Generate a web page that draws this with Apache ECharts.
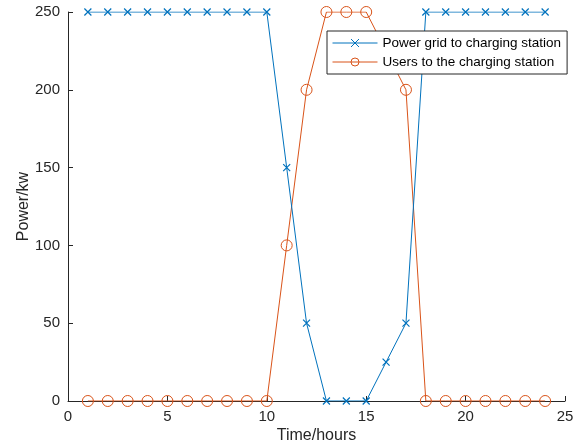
<!DOCTYPE html>
<html>
<head>
<meta charset="utf-8">
<script src="https://cdn.jsdelivr.net/npm/echarts@6/dist/echarts.min.js"></script>
<style>
  html, body { margin: 0; padding: 0; background: #fff; }
  #chart { width: 574px; height: 448px; }
</style>
</head>
<body>
<div id="chart"></div>
<script>
// hours 1..24
var hours = [1, 2, 3, 4, 5, 6, 7, 8, 9, 10, 11, 12, 13, 14, 15, 16, 17, 18, 19, 20, 21, 22, 23, 24];
var gridPower = [250, 250, 250, 250, 250, 250, 250, 250, 250, 250, 150, 50, 0, 0, 0, 25, 50, 250, 250, 250, 250, 250, 250, 250];
var userPower = [0, 0, 0, 0, 0, 0, 0, 0, 0, 0, 100, 200, 250, 250, 250, 225, 200, 0, 0, 0, 0, 0, 0, 0];
var seriesNames = ['Power grid to charging station', 'Users to the charging station'];

function pairs(xs, ys) {
    var out = [];
    for (var i = 0; i < xs.length; i++) {
        out.push([xs[i], ys[i]]);
    }
    return out;
}

var axisColor = '#262626';
var font = 'Liberation Sans, Arial, sans-serif';

var chart = echarts.init(document.getElementById('chart'));
var option = {
    animation: false,
    backgroundColor: '#fff',
    grid: { left: 68, right: 9, top: 12, bottom: 47, outerBoundsMode: 'none' },
    legend: {
        orient: 'vertical',
        left: 327,
        top: 31,
        padding: [5, 6, 5, 5],
        itemWidth: 45,
        itemHeight: 10,
        itemGap: 5,
        backgroundColor: '#fff',
        borderColor: axisColor,
        borderWidth: 1,
        borderRadius: 0,
        lineStyle: { width: 1 },
        itemStyle: { borderWidth: 1 },
        textStyle: { fontFamily: font, fontSize: 13.5, color: '#000' },
        data: seriesNames
    },
    xAxis: {
        type: 'value',
        min: 0, max: 25, interval: 5,
        name: 'Time/hours',
        nameLocation: 'middle',
        nameGap: 27,
        nameMoveOverlap: false,
        nameTextStyle: { fontFamily: font, fontSize: 16, color: axisColor },
        axisLine: { lineStyle: { color: axisColor, width: 1 } },
        axisTick: { inside: true, length: 5, lineStyle: { color: axisColor } },
        axisLabel: { fontFamily: font, fontSize: 15, color: axisColor, margin: 8 },
        splitLine: { show: false }
    },
    yAxis: {
        type: 'value',
        min: 0, max: 250, interval: 50,
        name: 'Power/kw',
        nameLocation: 'middle',
        nameGap: 36,
        nameMoveOverlap: false,
        nameTextStyle: { fontFamily: font, fontSize: 16, color: axisColor },
        axisLine: { show: true, lineStyle: { color: axisColor, width: 1 } },
        axisTick: { show: true, inside: true, length: 5, lineStyle: { color: axisColor } },
        axisLabel: { fontFamily: font, fontSize: 15, color: axisColor, margin: 8 },
        splitLine: { show: false }
    },
    series: [
        {
            name: seriesNames[0],
            type: 'line',
            data: pairs(hours, gridPower),
            symbol: 'path://M0,0L10,10M10,0L0,10',
            symbolSize: 7,
            lineStyle: { color: '#0072BD', width: 1 },
            itemStyle: { color: '#0072BD', borderColor: '#0072BD', borderWidth: 1.2 },
            z: 3
        },
        {
            name: seriesNames[1],
            type: 'line',
            data: pairs(hours, userPower),
            symbol: 'circle',
            symbolSize: 11,
            lineStyle: { color: '#D95319', width: 1 },
            itemStyle: { color: 'rgba(0,0,0,0)', borderColor: '#D95319', borderWidth: 1 },
            z: 2
        }
    ]
};
chart.setOption(option);
</script>
</body>
</html>
